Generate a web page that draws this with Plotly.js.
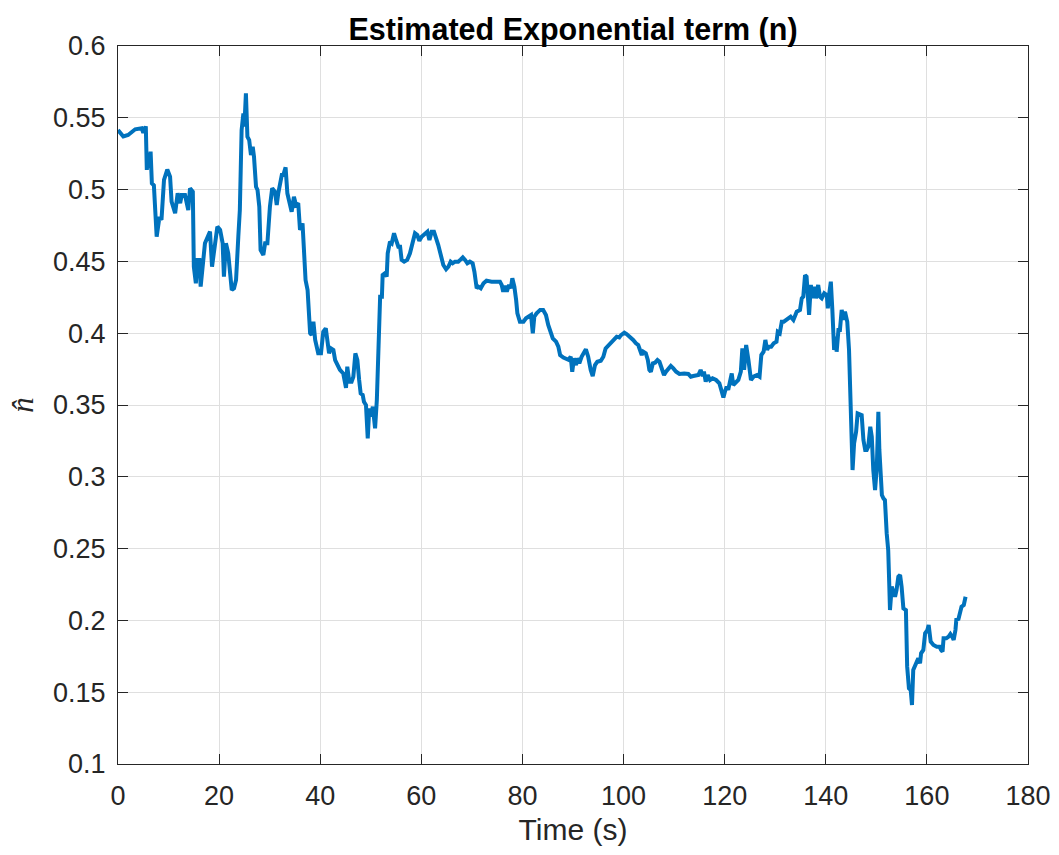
<!DOCTYPE html>
<html>
<head>
<meta charset="utf-8">
<script src="https://cdn.plot.ly/plotly-3.0.1.min.js"></script>
<style>html,body{margin:0;padding:0;background:#fff;}#chart{width:1059px;height:855px;}</style>
</head>
<body>
<div id="chart"></div>
<script>
const chartTitle = "Estimated Exponential term (n)";
const xLabel = "Time (s)";
const yLabel = "<i>n\u0302</i>";
const xTicks = [0, 20, 40, 60, 80, 100, 120, 140, 160, 180];
const yTicks = [0.1, 0.15, 0.2, 0.25, 0.3, 0.35, 0.4, 0.45, 0.5, 0.55, 0.6];

const timeS = [
  0, 0.7, 1.05, 2.0, 3.4, 4.7, 5.0, 5.5, 5.7, 6.0,
  6.2, 6.45, 6.7, 7.1, 7.65, 8.2, 8.6, 9.1, 9.75, 10.3,
  10.6, 11.3, 11.8, 12.3, 12.6, 13.25, 13.6, 13.9, 14.25, 14.8,
  15.0, 15.4, 15.7, 16.1, 16.35, 16.9, 17.2, 17.9, 18.2, 18.6,
  19.0, 19.4, 19.65, 20.2, 20.7, 20.95, 21.35, 21.8, 22.15, 22.5,
  22.95, 23.35, 23.8, 24.1, 24.45, 24.8, 25.0, 25.3, 25.6, 25.95,
  26.3, 26.65, 26.9, 27.3, 27.6, 27.95, 28.2, 28.75, 29.1, 29.55,
  30.05, 30.5, 31.05, 31.4, 31.7, 32.05, 32.4, 32.7, 33.15, 33.5,
  33.9, 34.35, 34.8, 35.2, 35.65, 36.0, 36.5, 36.85, 37.1, 37.5,
  37.8, 38.0, 38.3, 38.65, 39.0, 39.3, 39.6, 40.15, 40.6, 41.1,
  41.5, 41.75, 42.1, 42.6, 42.95, 43.45, 43.9, 44.55, 45.1, 45.35,
  45.75, 46.2, 46.55, 46.95, 47.35, 47.7, 48.0, 48.4, 48.65, 49.05,
  49.4, 49.7, 50.05, 50.4, 50.85, 51.2, 51.5, 51.85, 52.2, 52.35,
  52.8, 53.15, 53.35, 53.8, 54.15, 54.6, 55.0, 55.45, 55.8, 56.1,
  56.6, 57.2, 57.75, 58.3, 58.75, 59.2, 59.6, 60.05, 60.7, 61.2,
  61.6, 62.05, 62.5, 62.9, 63.35, 63.85, 64.35, 64.9, 65.35, 65.8,
  66.2, 66.65, 67.3, 67.8, 68.2, 68.65, 69.1, 69.6, 70.15, 70.5,
  70.95, 71.3, 71.75, 72.3, 72.9, 73.9, 74.9, 75.55, 75.9, 76.2,
  76.55, 76.9, 77.35, 77.7, 78.0, 78.4, 78.75, 79.0, 79.5, 80.2,
  80.7, 81.2, 81.7, 82.05, 82.35, 82.8, 83.5, 84.1, 84.65, 85.1,
  85.6, 86.0, 86.65, 87.1, 87.45, 88.1, 89.1, 89.55, 89.85, 90.2,
  90.6, 90.85, 91.25, 91.7, 92.55, 93.0, 93.5, 93.9, 94.35, 94.8,
  95.5, 96.0, 96.45, 96.85, 97.3, 97.75, 98.15, 98.65, 99.15, 99.5,
  100.15, 100.6, 101.3, 101.9, 102.45, 102.9, 103.25, 103.6, 103.9, 104.4,
  104.8, 105.1, 105.4, 105.8, 106.25, 106.7, 107.1, 107.55, 108.0, 108.4,
  108.85, 109.35, 109.85, 110.4, 111.05, 112.0, 112.8, 113.3, 113.8, 114.8,
  115.25, 115.65, 115.9, 116.25, 116.65, 117.1, 117.6, 118.3, 118.95, 119.4,
  119.75, 120.05, 120.4, 120.7, 121.05, 121.4, 121.7, 122.2, 122.7, 123.2,
  123.5, 123.85, 124.25, 124.7, 125.2, 125.7, 126.4, 126.9, 127.25, 127.7,
  128.05, 128.4, 128.7, 129.2, 129.7, 130.25, 130.5, 130.9, 131.3, 131.7,
  132.3, 133.05, 133.6, 134.25, 134.9, 135.25, 135.55, 135.9, 136.2, 136.4,
  136.7, 137.05, 137.4, 137.7, 138.05, 138.5, 138.85, 139.2, 139.7, 140.2,
  140.4, 140.7, 141.0, 141.3, 141.65, 141.95, 142.15, 142.5, 142.8, 143.15,
  143.5, 143.8, 144.25, 144.6, 144.9, 145.15, 145.3, 145.6, 146.0, 146.3,
  147.1, 147.45, 147.8, 148.1, 148.4, 148.8, 149.1, 149.4, 149.75, 150.1,
  150.4, 150.6, 150.9, 151.1, 151.4, 151.7, 152.05, 152.35, 152.55, 152.7,
  153.05, 153.35, 153.7, 154.0, 154.35, 154.7, 155.0, 155.35, 155.85, 156.1,
  156.45, 156.8, 157.05, 157.3, 157.65, 158.0, 158.3, 158.65, 158.85, 159.3,
  159.65, 160.1, 160.35, 160.75, 161.3, 161.95, 162.5, 162.8, 163.1, 163.3,
  163.85, 164.3, 164.65, 165.0, 165.3, 165.65, 165.85, 166.2, 166.5, 166.85,
  167.3, 167.65
];

const nHat = [
  0.5415, 0.539, 0.537, 0.538, 0.542, 0.5427, 0.5396, 0.544, 0.5137, 0.525,
  0.515, 0.5264, 0.5044, 0.503, 0.4672, 0.481, 0.479, 0.5067, 0.514, 0.509,
  0.4916, 0.4835, 0.4974, 0.4905, 0.4962, 0.4962, 0.4893, 0.4858, 0.5009, 0.4985,
  0.4463, 0.4347, 0.451, 0.451, 0.4324, 0.4533, 0.4626, 0.4684, 0.4707, 0.4463,
  0.458, 0.4649, 0.4742, 0.4719, 0.4626, 0.4394, 0.4626, 0.4556, 0.4405, 0.4301,
  0.4313, 0.437, 0.4672, 0.4858, 0.5415, 0.5531, 0.5438, 0.567, 0.5368, 0.5345,
  0.5241, 0.5299, 0.5229, 0.502, 0.4997, 0.4881, 0.458, 0.4545, 0.4626, 0.4626,
  0.4881, 0.5009, 0.4985, 0.4893, 0.4974, 0.5055, 0.5102, 0.5102, 0.5155, 0.4974,
  0.4916, 0.4846, 0.495, 0.4893, 0.4905, 0.4719, 0.4765, 0.451, 0.437, 0.4301,
  0.4162, 0.4, 0.3987, 0.408, 0.3953, 0.3918, 0.386, 0.386, 0.401, 0.4034,
  0.393, 0.386, 0.3895, 0.3883, 0.3813, 0.3767, 0.3744, 0.372, 0.362, 0.3767,
  0.3662, 0.3662, 0.3697, 0.386, 0.3813, 0.3674, 0.3581, 0.357, 0.3523, 0.35,
  0.3268, 0.3477, 0.3419, 0.3488, 0.3338, 0.3535, 0.3953, 0.4254, 0.4254, 0.4405,
  0.4417, 0.4394, 0.4556, 0.4637, 0.4626, 0.4696, 0.4649, 0.4602, 0.4602, 0.451,
  0.4498, 0.451, 0.4556, 0.4626, 0.4696, 0.4684, 0.4644, 0.4672, 0.4696, 0.4707,
  0.4649, 0.4707, 0.4707, 0.4672, 0.4614, 0.4545, 0.4475, 0.4445, 0.4463, 0.4498,
  0.4487, 0.4498, 0.4498, 0.4514, 0.4528, 0.451, 0.4487, 0.4498, 0.4487, 0.4428,
  0.4313, 0.4324, 0.4313, 0.4347, 0.4366, 0.4359, 0.4359, 0.4359, 0.4336, 0.4289,
  0.4329, 0.4289, 0.4336, 0.4313, 0.4382, 0.4324, 0.4231, 0.4138, 0.408, 0.408,
  0.4104, 0.4115, 0.4127, 0.4, 0.4115, 0.4138, 0.4162, 0.4162, 0.4127, 0.4057,
  0.401, 0.3964, 0.3941, 0.3906, 0.3848, 0.383, 0.3815, 0.3836, 0.3732, 0.3825,
  0.3778, 0.3825, 0.379, 0.3836, 0.3888, 0.3836, 0.3744, 0.3702, 0.3778, 0.3801,
  0.3808, 0.3836, 0.3894, 0.3911, 0.393, 0.3941, 0.3957, 0.3976, 0.3971, 0.3987,
  0.4004, 0.3994, 0.3976, 0.3953, 0.393, 0.3918, 0.3883, 0.3848, 0.3871, 0.386,
  0.3813, 0.3744, 0.3732, 0.379, 0.3795, 0.3813, 0.3801, 0.3755, 0.3709, 0.3732,
  0.3755, 0.3772, 0.3755, 0.3732, 0.3716, 0.372, 0.3716, 0.3697, 0.3702, 0.3709,
  0.3744, 0.3702, 0.3732, 0.3662, 0.3709, 0.3674, 0.3686, 0.3674, 0.3651, 0.3581,
  0.3553, 0.3593, 0.3628, 0.3605, 0.3662, 0.372, 0.3639, 0.3662, 0.3674, 0.3732,
  0.3895, 0.3744, 0.3918, 0.3813, 0.3674, 0.3697, 0.3709, 0.3697, 0.3848, 0.3871,
  0.3953, 0.3883, 0.3906, 0.3906, 0.393, 0.3941, 0.401, 0.4, 0.408, 0.408,
  0.4092, 0.4115, 0.4092, 0.415, 0.4162, 0.4243, 0.4254, 0.4405, 0.4394, 0.4231,
  0.4127, 0.4336, 0.4243, 0.4324, 0.4243, 0.4336, 0.4254, 0.4243, 0.4278, 0.4266,
  0.4173, 0.4278, 0.4359, 0.4162, 0.3883, 0.3976, 0.3871, 0.4022, 0.4022, 0.4162,
  0.4092, 0.415, 0.408, 0.3883, 0.3488, 0.3187, 0.3047, 0.3233, 0.3314, 0.3442,
  0.343, 0.3256, 0.3187, 0.3187, 0.321, 0.3349, 0.3279, 0.3047, 0.2908, 0.307,
  0.3453, 0.3187, 0.2908, 0.2873, 0.285, 0.2838, 0.2606, 0.249, 0.2258, 0.2072,
  0.2235, 0.2189, 0.2165, 0.2212, 0.2304, 0.2316, 0.2235, 0.2084, 0.2072, 0.1678,
  0.1527, 0.1515, 0.1411, 0.1655, 0.169, 0.1724, 0.1736, 0.1701, 0.1771, 0.1794,
  0.191, 0.1933, 0.1968, 0.1852, 0.1829, 0.1817, 0.1817, 0.1794, 0.1782, 0.1875,
  0.1875, 0.1887, 0.1905, 0.1887, 0.1864, 0.1933, 0.2015, 0.2003, 0.2061, 0.2095,
  0.2107, 0.2165
];

const fontFam = "Liberation Sans, Arial, Helvetica, sans-serif";
const axisColor = "#262626";
const gridColor = "#dfdfdf";

const trace = {
  x: timeS,
  y: nHat,
  type: "scatter",
  mode: "lines",
  line: {color: "#0072BD", width: 4},
  hoverinfo: "skip"
};

const common = {
  showline: true,
  linecolor: axisColor,
  linewidth: 1,
  mirror: "ticks",
  ticks: "inside",
  ticklen: 10,
  tickwidth: 1,
  tickcolor: axisColor,
  showgrid: true,
  gridcolor: gridColor,
  gridwidth: 1,
  zeroline: false,
  tickfont: {family: fontFam, size: 27, color: axisColor}
};

const layout = {
  width: 1059,
  height: 855,
  paper_bgcolor: "#ffffff",
  plot_bgcolor: "#ffffff",
  margin: {l: 118, r: 31, t: 46, b: 91},
  showlegend: false,
  title: {
    text: chartTitle,
    font: {family: fontFam, size: 30.5, color: "#000000", weight: "bold"},
    x: 0.5, xref: "paper", xanchor: "center",
    y: 1 - 29 / 855, yref: "container", yanchor: "middle"
  },
  xaxis: Object.assign({}, common, {
    range: [0, 180],
    tickvals: xTicks,
    ticktext: xTicks.map(String),
    ticklabelstandoff: 8,
    title: {text: xLabel, font: {family: fontFam, size: 30, color: axisColor}, standoff: 8}
  }),
  yaxis: Object.assign({}, common, {
    range: [0.1, 0.6],
    tickvals: yTicks,
    ticktext: yTicks.map(String),
    ticklabelstandoff: 6,
    title: {text: yLabel, font: {family: "Liberation Serif, DejaVu Serif, serif", size: 31, color: axisColor}, standoff: 10}
  })
};

Plotly.newPlot("chart", [trace], layout, {displayModeBar: false, staticPlot: true});
</script>
</body>
</html>
